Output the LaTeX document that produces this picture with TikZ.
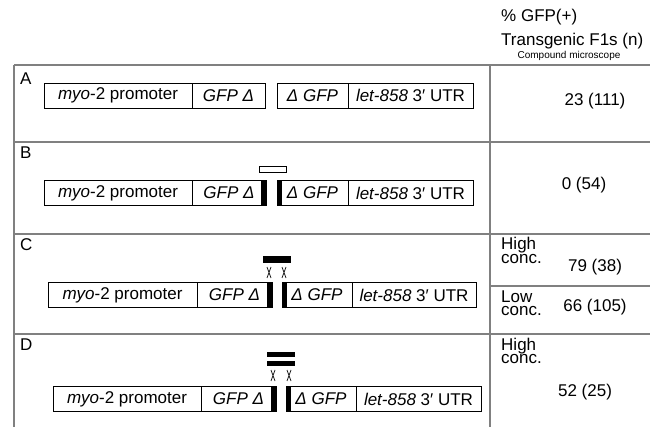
\documentclass[tikz,border=0pt]{standalone}
\usepackage{fontspec}
\setmainfont{Liberation Sans}
\usetikzlibrary{positioning}

\tikzset{
  part/.style={draw, line width=0.9pt, minimum height=25, inner sep=0pt, outer sep=0pt,
    anchor=west, font=\fontsize{17}{20}\selectfont},
  cut/.style={fill=black, minimum width=5, minimum height=25, inner sep=0pt, outer sep=0pt},
  grid/.style={draw=black!50, line width=1.3pt},
  tag/.style={anchor=base west, inner sep=0pt, font=\fontsize{17}{20}\selectfont},
  val/.style={anchor=base, inner sep=0pt, font=\fontsize{17}{20}\selectfont},
  conc/.style={anchor=base west, align=left, inner sep=0pt, font=\fontsize{17}{13.5}\selectfont},
  xmark/.style={line width=0.7pt},
}

\begin{document}
\begin{tikzpicture}[x=1pt, y=-1pt]
  \useasboundingbox (0,0) rectangle (650,427);

  % table
  \draw[grid] (14,65) -- (650,65);
  \foreach \y in {142,234,334}{
    \draw[grid] (14,\y) -- (650,\y);
  }
  \draw[grid] (14,65) -- (14,427);
  \draw[grid] (490,65) -- (490,427);
  \draw[grid] (490,286) -- (650,286);

  % header
  \node[tag] (hdr1) at (501,22) {\% GFP(+)};
  \node[tag] (hdr2) at (501,45.5) {Transgenic F1s (n)};
  \node[anchor=base, inner sep=0pt, font=\fontsize{10}{12}\selectfont] (hdr3) at (569,59) {Compound microscope};

  % row A
  \node[tag] (labA) at (20,85) {A};
  \node[part, minimum width=148] (promA) at (44,95.5) {\textit{myo}-2 promoter};
  \node[part, minimum width=73, right=0pt of promA] (gfpA) {\textit{GFP Δ}};
  \node[part, minimum width=71] (dgfpA) at (277,95.5) {\textit{Δ GFP}};
  \node[part, minimum width=125, right=0pt of dgfpA] (utrA) {\textit{let-858} 3′ UTR};
  \node[val] (valA) at (595,106) {23 (111)};

  % row B
  \node[tag] (labB) at (20,159) {B};
  \node[draw, fill=white, line width=0.9pt, minimum width=27, minimum height=6, inner sep=0pt] (oligoB) at (272.5,169) {};
  \node[part, minimum width=148] (promB) at (44,193) {\textit{myo}-2 promoter};
  \node[part, minimum width=74, right=0pt of promB] (gfpB) {\textit{GFP Δ}};
  \node[cut, anchor=east] (cutB1) at (gfpB.east) {};
  \node[part, minimum width=71] (dgfpB) at (277,193) {\textit{Δ GFP}};
  \node[cut, anchor=west] (cutB2) at (dgfpB.west) {};
  \node[part, minimum width=125, right=0pt of dgfpB] (utrB) {\textit{let-858} 3′ UTR};
  \node[val] (valB) at (584,190) {0 (54)};

  % row C
  \node[tag] (labC) at (20,251) {C};
  \node[fill=black, minimum width=28, minimum height=7, inner sep=0pt] (oligoC) at (277,259.5) {};
  \foreach \x in {269,284}{
    \draw[xmark] (\x-2,267) -- (\x+2,278) (\x+2,267) -- (\x-2,278);
  }
  \node[part, minimum width=149] (promC) at (48,295) {\textit{myo}-2 promoter};
  \node[part, minimum width=75, right=0pt of promC] (gfpC) {\textit{GFP Δ}};
  \node[cut, anchor=east] (cutC1) at (gfpC.east) {};
  \node[part, minimum width=70] (dgfpC) at (282,295) {\textit{Δ GFP}};
  \node[cut, anchor=west] (cutC2) at (dgfpC.west) {};
  \node[part, minimum width=124, right=0pt of dgfpC] (utrC) {\textit{let-858} 3′ UTR};
  \node[conc] (hiC) at (501,263.5) {High\\conc.};
  \node[val] (valC1) at (595,272) {79 (38)};
  \node[conc] (loC) at (501,316) {Low\\conc.};
  \node[val] (valC2) at (595,312) {66 (105)};

  % row D
  \node[tag] (labD) at (20,350) {D};
  \node[fill=black, minimum width=28, minimum height=5, inner sep=0pt] (oligoD1) at (281,354.5) {};
  \node[fill=black, minimum width=28, minimum height=5, inner sep=0pt] (oligoD2) at (281,363.5) {};
  \foreach \x in {273,289}{
    \draw[xmark] (\x-2,370) -- (\x+2,381) (\x+2,370) -- (\x-2,381);
  }
  \node[part, minimum width=148] (promD) at (53,399) {\textit{myo}-2 promoter};
  \node[part, minimum width=75, right=0pt of promD] (gfpD) {\textit{GFP Δ}};
  \node[cut, anchor=east] (cutD1) at (gfpD.east) {};
  \node[part, minimum width=70] (dgfpD) at (286,399) {\textit{Δ GFP}};
  \node[cut, anchor=west] (cutD2) at (dgfpD.west) {};
  \node[part, minimum width=125, right=0pt of dgfpD] (utrD) {\textit{let-858} 3′ UTR};
  \node[conc] (hiD) at (501,363.5) {High\\conc.};
  \node[val] (valD) at (585,396) {52 (25)};

\end{tikzpicture}
\end{document}
